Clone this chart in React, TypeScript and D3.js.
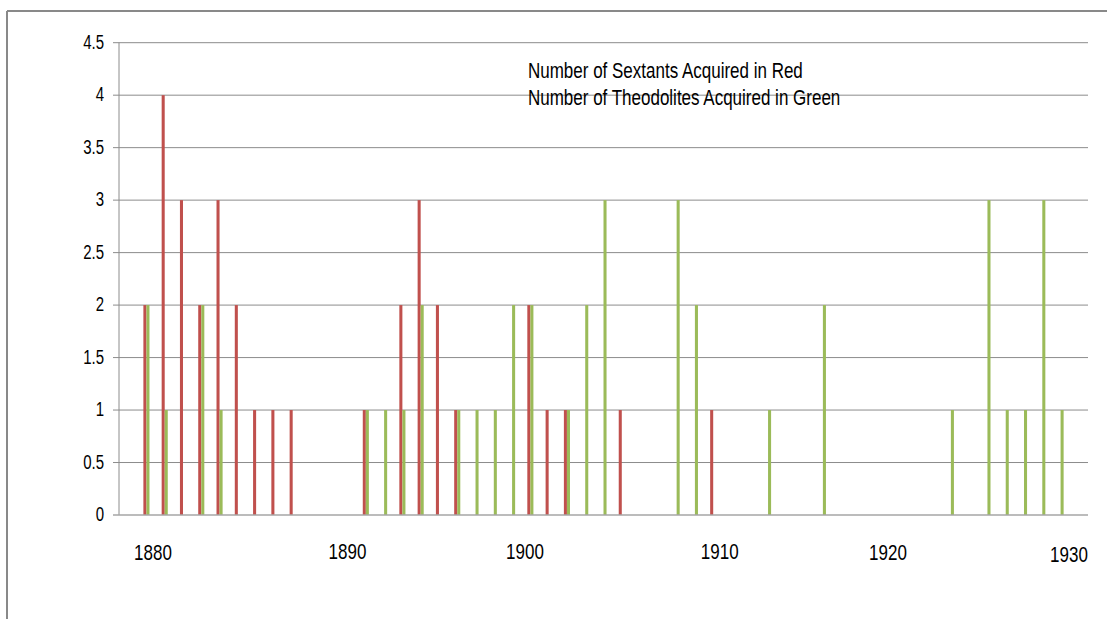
import React, { useEffect } from "react";
import * as d3 from "d3";

// Category axis: one slot per year
const categories: number[] = d3.range(1879, 1932);

// Sextants acquired (red)
const sextantYears = [1880, 1881, 1882, 1883, 1884, 1885, 1886, 1887, 1888, 1892, 1894, 1895, 1896, 1897, 1901, 1902, 1903, 1906, 1911];
const sextantCounts = [2, 4, 3, 2, 3, 2, 1, 1, 1, 1, 2, 3, 2, 1, 2, 1, 1, 1, 1];

// Theodolites acquired (green)
const theodoliteYears = [1880, 1881, 1883, 1884, 1892, 1893, 1894, 1895, 1897, 1898, 1899, 1900, 1901, 1903, 1904, 1905, 1909, 1910, 1914, 1917, 1924, 1926, 1927, 1928, 1929, 1930];
const theodoliteCounts = [2, 1, 2, 1, 1, 1, 1, 2, 1, 1, 1, 2, 2, 1, 2, 3, 3, 2, 1, 2, 1, 3, 1, 1, 3, 1];

const yTicks = [0, 0.5, 1, 1.5, 2, 2.5, 3, 3.5, 4, 4.5];
const yearLabels = ["1880", "1890", "1900", "1910", "1920", "1930"];
const annotation = ["Number of Sextants Acquired in Red", "Number of Theodolites Acquired in Green"];

// layout (manually placed text boxes in the original)
const yearLabelX = [153, 347.5, 525, 719.7, 888, 1069];
const yearLabelY = [559.5, 559, 558.5, 558.5, 559.5, 562];

const W = 1107, H = 619;
const plot = { left: 119, right: 1088, top: 42.7, bottom: 515 };
const FONT = "'Liberation Sans', Arial, sans-serif";
const SY = 1.3;

export default function App() {
  useEffect(() => {
    document.body.style.margin = "0";
  }, []);

  const x = d3.scaleBand<number>().domain(categories).range([plot.left, plot.right]).paddingInner(0).paddingOuter(0);
  const y = d3.scaleLinear().domain([0, 4.5]).range([plot.bottom, plot.top]);
  const bw = x.bandwidth() / 6;

  const sext = sextantYears.map((yr, i) => ({ yr, v: sextantCounts[i] }));
  const theo = theodoliteYears.map((yr, i) => ({ yr, v: theodoliteCounts[i] }));
  const center = (yr: number) => (x(yr) as number) + x.bandwidth() / 2;

  return (
    <svg width={W} height={H} style={{ display: "block", background: "#fff" }}>
      {/* chart area border */}
      <line x1={7} x2={W} y1={11} y2={11} stroke="#898989" strokeWidth={2} />
      <line x1={7} x2={7} y1={11} y2={H} stroke="#898989" strokeWidth={2} />

      {/* gridlines + ticks */}
      {yTicks.map((t) => (
        <g key={t}>
          {t !== 0 && (
            <line x1={plot.left - 6} x2={plot.right} y1={y(t)} y2={y(t)} stroke="#8c8c8c" strokeWidth={1} />
          )}
          <text
            transform={`translate(104,${y(t) + 6}) scale(1,${SY})`}
            textAnchor="end"
            fontFamily={FONT}
            fontSize={15}
            fill="#000"
          >
            {String(t)}
          </text>
        </g>
      ))}
      {/* y axis */}
      <line x1={plot.left} x2={plot.left} y1={plot.top} y2={plot.bottom} stroke="#8c8c8c" strokeWidth={1} />

      {/* bars */}
      {sext.map((d) => (
        <rect key={"s" + d.yr} x={center(d.yr) - bw} y={y(d.v)} width={bw} height={y(0) - y(d.v)} fill="#C0504D" />
      ))}
      {theo.map((d) => (
        <rect key={"t" + d.yr} x={center(d.yr)} y={y(d.v)} width={bw} height={y(0) - y(d.v)} fill="#9BBB59" />
      ))}

      {/* x axis */}
      <line x1={plot.left - 6} x2={plot.right} y1={plot.bottom} y2={plot.bottom} stroke="#a6a6a6" strokeWidth={1.5} />

      {/* year labels */}
      {yearLabels.map((l, i) => (
        <text
          key={l}
          transform={`translate(${yearLabelX[i]},${yearLabelY[i]}) scale(1,${SY})`}
          textAnchor="middle"
          fontFamily={FONT}
          fontSize={17}
          fill="#000"
        >
          {l}
        </text>
      ))}

      {/* annotation */}
      {annotation.map((l, i) => (
        <text
          key={l}
          transform={`translate(528,${77.5 + i * 27.5}) scale(1,${SY})`}
          fontFamily={FONT}
          fontSize={17}
          fill="#000"
        >
          {l}
        </text>
      ))}
    </svg>
  );
}
